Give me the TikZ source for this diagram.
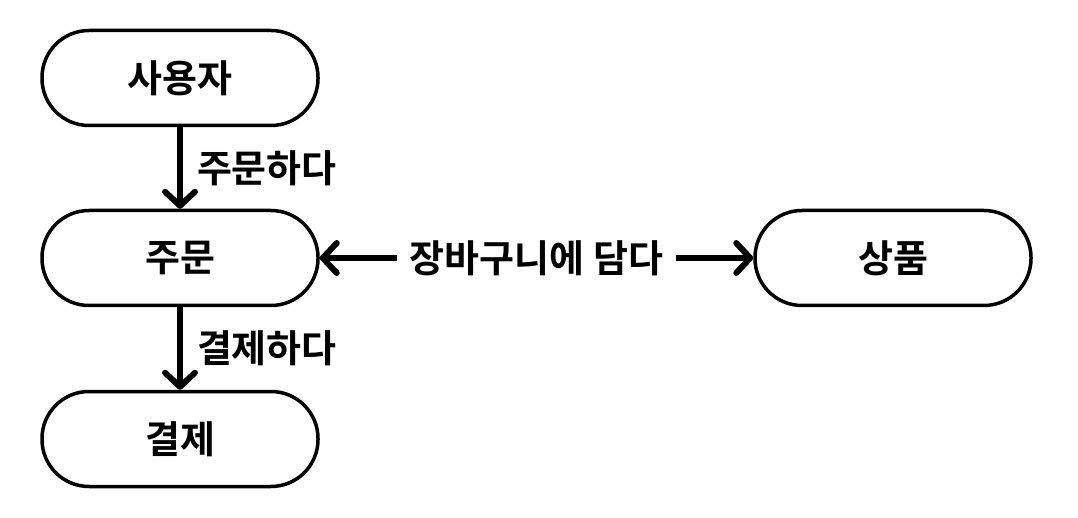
\documentclass[tikz,border=0pt]{standalone}
\usepackage{fontspec}
\newfontfamily\kr{Noto Sans CJK KR Bold}
\usetikzlibrary{arrows.meta}
\begin{document}
\begin{tikzpicture}[x=1pt,y=-1pt,
  ent/.style={draw=black, line width=3.5pt, rounded corners=47pt, minimum width=276pt, minimum height=95pt, inner sep=0pt, font=\kr\fontsize{38}{44}\selectfont, fill=white},
  conn/.style={line width=6pt, -{Straight Barb[round, length=14pt, width=30pt]}},
  lbl/.style={font=\kr\fontsize{38}{44}\selectfont, inner sep=2pt}]
\useasboundingbox (0,0) rectangle (1078,518);
\node[ent] (user) at (180,78) {사용자};
\node[ent] (order) at (180,258) {주문};
\node[ent] (pay) at (180,439) {결제};
\node[ent] (prod) at (893,258) {상품};
\draw[conn] (user) -- node[lbl, right, xshift=12pt] (l1) {주문하다} (order);
\draw[conn] (order) -- node[lbl, right, xshift=12pt] (l2) {결제하다} (pay);
\draw[conn, {Straight Barb[round, length=14pt, width=30pt]}-{Straight Barb[round, length=14pt, width=30pt]}] (order) -- node[lbl, fill=white, inner xsep=13pt] (l3) {장바구니에 담다} (prod);
\end{tikzpicture}
\end{document}
